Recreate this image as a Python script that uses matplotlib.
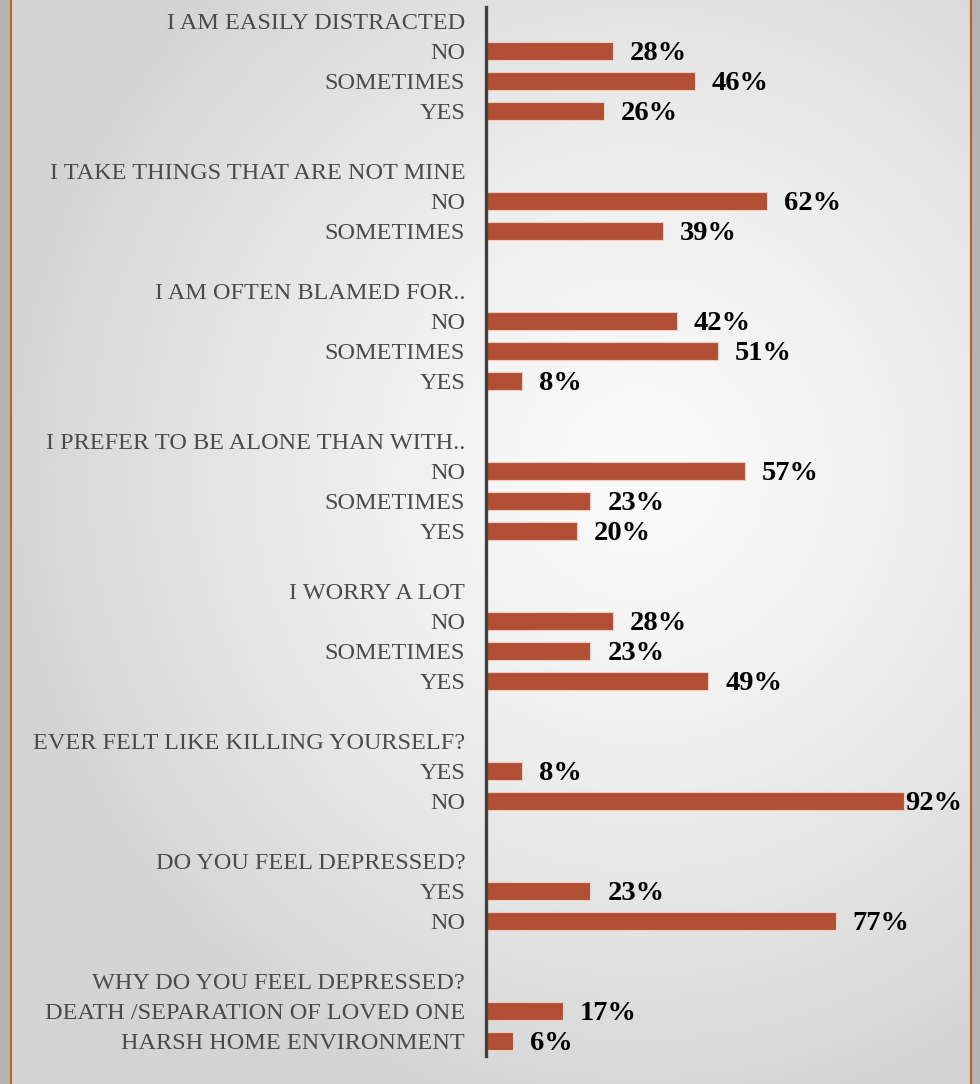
import numpy as np
import matplotlib
matplotlib.use("Agg")
import matplotlib.pyplot as plt
from matplotlib.colors import LinearSegmentedColormap

# survey questions, answers and percentages (top to bottom)
questions = [
    "I AM EASILY DISTRACTED",
    "I TAKE THINGS THAT ARE NOT MINE",
    "I AM OFTEN BLAMED FOR..",
    "I PREFER TO BE ALONE THAN WITH..",
    "I WORRY A LOT",
    "EVER FELT LIKE KILLING YOURSELF?",
    "DO YOU FEEL DEPRESSED?",
    "WHY DO YOU FEEL DEPRESSED?",
]
answers = [
    ["NO", "SOMETIMES", "YES"],
    ["NO", "SOMETIMES"],
    ["NO", "SOMETIMES", "YES"],
    ["NO", "SOMETIMES", "YES"],
    ["NO", "SOMETIMES", "YES"],
    ["YES", "NO"],
    ["YES", "NO"],
    ["DEATH /SEPARATION OF LOVED ONE", "HARSH HOME ENVIRONMENT"],
]
percents = [
    [28, 46, 26],
    [62, 39],
    [42, 51, 8],
    [57, 23, 20],
    [28, 23, 49],
    [8, 92],
    [23, 77],
    [17, 6],
]

# flatten into rows: question header, its answers, then a spacer
labels, values = [], []
for i, (q, ans, pct) in enumerate(zip(questions, answers, percents)):
    labels.append(q)
    values.append(None)
    labels.extend(ans)
    values.extend(pct)
    if i < len(questions) - 1:
        labels.append("")
        values.append(None)

W, H = 980, 1084
fig = plt.figure(figsize=(W / 100, H / 100), dpi=100)

# soft radial background
bg = fig.add_axes([0, 0, 1, 1], zorder=0)
yy, xx = np.mgrid[0:H, 0:W]
r = np.hypot((xx - 640) / 640, (yy - 470) / 660)
shade = np.clip(r, 0, 1) ** 1.4
cmap = LinearSegmentedColormap.from_list("bg", ["#fafafa", "#d4d4d4"])
bg.imshow(shade, cmap=cmap, vmin=0, vmax=1, extent=(0, W, H, 0), aspect="auto")
# frame shadows and orange edges
bg.add_patch(plt.Rectangle((0, 0), 10, H, color="#b4b4b4", lw=0))
bg.add_patch(plt.Rectangle((972, 0), 8, H, color="#b4b4b4", lw=0))
bg.axvline(11, color="#c0602e", lw=1.6)
bg.axvline(971, color="#c0602e", lw=1.6)
bg.set_xlim(0, W)
bg.set_ylim(H, 0)
bg.axis("off")

left, right, top, bottom = 486, 970, 7, 1056
ax = fig.add_axes([left / W, 1 - bottom / H, (right - left) / W, (bottom - top) / H], zorder=1)
ax.patch.set_alpha(0)

px_per_pct = 4.54
xmax = (right - left) / px_per_pct
n = len(labels)
ypos = np.arange(n)
bar_vals = [v if v is not None else 0 for v in values]
ax.barh(ypos, bar_vals, height=0.6, color="#b24e33", edgecolor="#f0cdbf",
        linewidth=0.8, zorder=2)

for y, v in zip(ypos, values):
    if v is None:
        continue
    pad = 17 / px_per_pct if v < 90 else 0.3
    ax.text(v + pad, y, f"{v}%", va="center_baseline", ha="left", fontsize=20.5,
            fontweight="bold", family="Liberation Serif", color="black")

ax.set_xlim(0, xmax)
ax.set_ylim(n - 0.5, -0.45)
ax.set_yticks(ypos)
ax.set_yticklabels(labels, family="Liberation Serif", fontsize=17.5, color="#4a4a4a")
ax.tick_params(axis="y", length=0, pad=15)
ax.set_xticks([])
for s in ["top", "right", "bottom"]:
    ax.spines[s].set_visible(False)
ax.spines["left"].set_color("#404040")
ax.spines["left"].set_linewidth(2.4)

fig.savefig("out.png", dpi=100)
